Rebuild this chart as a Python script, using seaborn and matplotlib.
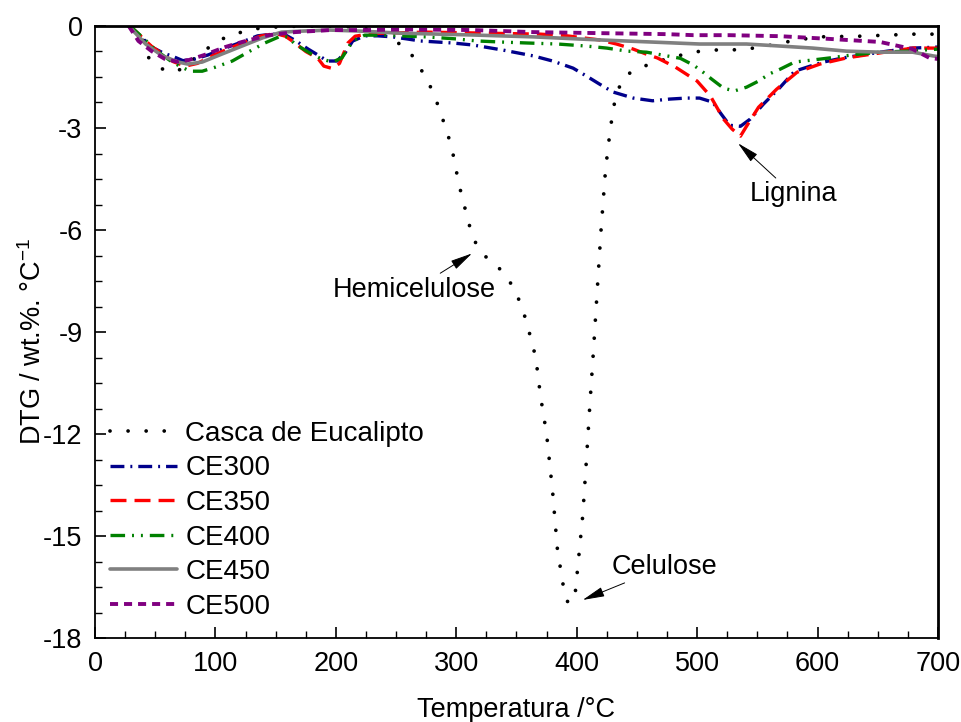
import matplotlib
matplotlib.use("Agg")
import matplotlib.pyplot as plt
import seaborn as sns
import numpy as np
from matplotlib.ticker import MultipleLocator

# ---------------- data ----------------
casca_x = [30, 40, 44, 52, 62, 72, 82, 91, 102, 111, 122, 131, 142, 150, 165, 185, 195, 210, 225, 240,
           253, 263, 270, 275, 281, 286, 291, 296, 299, 302, 306, 310, 314, 322, 331, 339, 347, 353, 358,
           362, 366, 370, 375, 380, 384, 389, 393, 399, 402, 405, 408, 411, 414, 417, 420, 424, 427, 430,
           433, 439, 447, 457, 477, 498, 518, 537, 556, 574, 600, 635, 679, 700]
casca_y = [-0.05, -0.38, -0.91, -1.2, -1.36, -1.27, -0.97, -0.71, -0.47, -0.27, -0.18, -0.09, -0.05, -0.03,
           -0.01, 0.0, 0.0, -0.02, -0.08, -0.25, -0.53, -0.85, -1.24, -1.53, -1.97, -2.45, -2.98, -3.54,
           -4.07, -4.63, -5.19, -5.75, -6.25, -6.72, -6.96, -7.25, -7.66, -8.13, -8.66, -9.2, -9.75, -10.9,
           -12.0, -13.7, -15.4, -16.5, -17.0, -16.6, -15.5, -14.4, -12.8, -11.1, -9.5, -7.8, -6.1, -4.2,
           -3.3, -2.5, -2.0, -1.5, -1.32, -1.17, -0.94, -0.76, -0.7, -0.7, -0.6, -0.47, -0.32, -0.3, -0.24,
           -0.24]

ce300_x = [29, 47, 57, 65, 73, 83, 94, 108, 122, 135, 147, 158, 166, 177, 184, 193, 201, 208, 214, 224, 235,
           247, 259, 270, 297, 314, 339, 364, 380, 397, 408, 419, 430, 447, 463, 477, 491, 502, 513, 520,
           527, 536, 544, 555, 569, 581, 594, 605, 621, 641, 658, 679, 700]
ce300_y = [0.0, -0.62, -0.8, -0.9, -1.02, -0.97, -0.85, -0.65, -0.47, -0.29, -0.24, -0.26, -0.42, -0.68,
           -0.83, -1.03, -1.03, -0.77, -0.44, -0.29, -0.29, -0.32, -0.38, -0.44, -0.5, -0.56, -0.71, -0.88,
           -1.03, -1.24, -1.47, -1.71, -1.94, -2.12, -2.2, -2.15, -2.12, -2.12, -2.24, -2.59, -2.92, -2.95,
           -2.74, -2.3, -1.8, -1.33, -1.18, -1.06, -0.94, -0.83, -0.74, -0.65, -0.62]

ce350_x = [29, 47, 57, 65, 75, 85, 96, 110, 124, 137, 150, 158, 165, 175, 185, 190, 197, 203, 210, 216, 230,
           275, 308, 370, 392, 419, 433, 447, 458, 467, 482, 500, 511, 522, 529, 536, 541, 551, 566, 583,
           602, 624, 635, 679, 700]
ce350_y = [0.0, -0.6, -0.85, -1.05, -1.18, -1.1, -0.9, -0.68, -0.48, -0.3, -0.22, -0.3, -0.47, -0.75, -0.95,
           -1.18, -1.25, -1.1, -0.5, -0.3, -0.22, -0.18, -0.2, -0.24, -0.29, -0.41, -0.53, -0.68, -0.83,
           -0.94, -1.21, -1.62, -2.06, -2.74, -3.03, -3.24, -2.95, -2.39, -1.86, -1.36, -1.12, -0.94, -0.88,
           -0.65, -0.65]

ce400_x = [29, 40, 50, 64, 72, 79, 89, 100, 114, 127, 141, 154, 160, 166, 180, 188, 197, 205, 214, 224, 240,
           253, 275, 300, 317, 336, 359, 384, 408, 425, 442, 458, 475, 486, 497, 505, 512, 522, 531, 541,
           551, 560, 569, 581, 596, 610, 629, 652, 674, 700]
ce400_y = [0.0, -0.35, -0.7, -1.06, -1.21, -1.33, -1.33, -1.21, -1.03, -0.77, -0.5, -0.3, -0.32, -0.53,
           -0.83, -0.97, -1.06, -0.94, -0.44, -0.27, -0.27, -0.29, -0.32, -0.38, -0.44, -0.47, -0.5, -0.53,
           -0.59, -0.65, -0.74, -0.77, -0.88, -0.95, -1.15, -1.36, -1.56, -1.83, -1.91, -1.8, -1.62, -1.41,
           -1.27, -1.06, -1.0, -0.94, -0.85, -0.77, -0.74, -0.68]

ce450_x = [28, 42, 56, 69, 77, 89, 105, 122, 139, 155, 172, 195, 220, 253, 309, 364, 419, 461, 502, 541,
           569, 596, 624, 652, 679, 696, 700]
ce450_y = [0.0, -0.53, -0.88, -1.06, -1.12, -1.06, -0.83, -0.59, -0.35, -0.18, -0.15, -0.12, -0.15, -0.21,
           -0.26, -0.32, -0.41, -0.47, -0.53, -0.53, -0.59, -0.65, -0.74, -0.77, -0.77, -0.88, -0.9]

ce500_x = [28, 36, 47, 58, 68, 78, 91, 108, 122, 144, 166, 195, 225, 257, 314, 364, 419, 475, 497, 527, 569,
           610, 652, 679, 693, 700]
ce500_y = [0.0, -0.44, -0.74, -0.97, -1.05, -1.0, -0.85, -0.62, -0.47, -0.27, -0.18, -0.12, -0.12, -0.1,
           -0.12, -0.18, -0.21, -0.24, -0.27, -0.27, -0.3, -0.38, -0.47, -0.68, -0.94, -0.97]

labels = ["Casca de Eucalipto", "CE300", "CE350", "CE400", "CE450", "CE500"]
colors = ["#000000", "#00008B", "#FF0000", "#008000", "#808080", "#800080"]
xticks = [0, 100, 200, 300, 400, 500, 600, 700]
yticks = [0, -3, -6, -9, -12, -15, -18]

# ---------------- style ----------------
sns.set_theme(style="ticks")
plt.rcParams["font.family"] = ["Liberation Sans", "DejaVu Sans"]
plt.rcParams["mathtext.fontset"] = "custom"
plt.rcParams["mathtext.rm"] = "Liberation Sans"
plt.rcParams["mathtext.it"] = "Liberation Sans:italic"
plt.rcParams["axes.unicode_minus"] = False
plt.rcParams["lines.scale_dashes"] = False
for k in ["text.color", "axes.labelcolor", "xtick.color", "ytick.color", "axes.edgecolor"]:
    plt.rcParams[k] = "black"

FS = 19.5
LFS = 20

fig = plt.figure(figsize=(9.62, 7.22), dpi=100)
ax = fig.add_axes([0.0988, 0.1163, 0.8762, 0.8477])

series = [(casca_x, casca_y), (ce300_x, ce300_y), (ce350_x, ce350_y),
          (ce400_x, ce400_y), (ce450_x, ce450_y), (ce500_x, ce500_y)]
# dash patterns in points
dash_styles = [
    (0, (0.01, 13.0)),                     # dotted
    (0, (10.0, 4.3, 1.4, 4.3)),            # dash-dot
    (0, (11.5, 5.8)),                      # dashed
    (0, (10.5, 5.0, 1.4, 5.0, 1.4, 5.0)),  # dash-dot-dot
    "solid",
    (0, (5.8, 4.3)),                       # short dash
]
widths = [2.7, 2.4, 2.4, 2.4, 2.6, 2.8]

for (xs, ys), lab, col, ds, lw in zip(series, labels, colors, dash_styles, widths):
    sns.lineplot(x=xs, y=ys, ax=ax, color=col, label=lab, sort=False,
                 estimator=None, linewidth=lw)
    line = ax.get_lines()[-1]
    line.set_linestyle(ds)
    if lab == "Casca de Eucalipto":
        line.set_dash_capstyle("round")
    else:
        line.set_dash_capstyle("butt")

ax.set_xlim(0, 700)
ax.set_ylim(-18, 0)
ax.set_xticks(xticks)
ax.set_yticks(yticks)
ax.xaxis.set_minor_locator(MultipleLocator(25))
ax.yaxis.set_minor_locator(MultipleLocator(0.75))
ax.tick_params(which="major", direction="in", length=8, width=1.2, labelsize=FS, pad=9,
               top=False, right=False, colors="black")
ax.tick_params(which="minor", direction="in", length=5, width=1.0, top=False, right=False,
               colors="black")
for s in ax.spines.values():
    s.set_visible(True)
    s.set_color("black")
    s.set_linewidth(1.3)
ax.spines["top"].set_linewidth(2.0)
ax.spines["right"].set_linewidth(2.0)

ax.set_xlabel("Temperatura /°C", fontsize=FS, labelpad=15)
ax.set_ylabel("DTG / wt.%. °C$^{-1}$", fontsize=FS)
ax.yaxis.set_label_coords(-0.057, 0.485)

leg = ax.legend(loc="upper left", bbox_to_anchor=(0.018, 0.355), frameon=False,
                fontsize=LFS, handlelength=2.4, handletextpad=0.3, labelspacing=0.31,
                borderpad=0, borderaxespad=0)

arrow_kw = dict(arrowstyle="-|>,head_length=0.9,head_width=0.2", color="black",
                lw=0.7, mutation_scale=15, shrinkA=0, shrinkB=0)
ax.annotate("Hemicelulose", xy=(313, -6.69), xytext=(265, -7.75), fontsize=FS,
            ha="center", va="center", arrowprops=arrow_kw)
ax.annotate("Celulose", xy=(405, -16.88), xytext=(473, -15.9), fontsize=FS,
            ha="center", va="center", arrowprops=arrow_kw)
ax.annotate("Lignina", xy=(534, -3.45), xytext=(580, -4.95), fontsize=FS,
            ha="center", va="center", arrowprops=arrow_kw)

fig.savefig("out.png", dpi=100)
